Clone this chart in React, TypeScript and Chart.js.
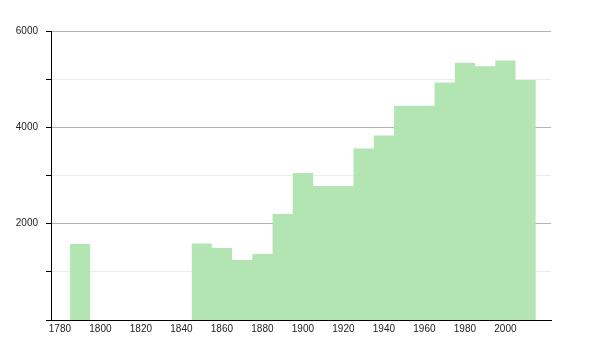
import React, { useEffect, useRef } from "react";
import { Chart, registerables } from "chart.js";

Chart.register(...registerables);

const censusYears = [1790, 1850, 1860, 1870, 1880, 1890, 1900, 1910, 1920, 1930, 1940, 1950, 1960, 1970, 1980, 1990, 2000, 2010];
const population = [1580, 1590, 1494, 1245, 1369, 2199, 3050, 2780, 2780, 3560, 3830, 4450, 4450, 4930, 5340, 5270, 5385, 4985];
const xTickYears = [1780, 1800, 1820, 1840, 1860, 1880, 1900, 1920, 1940, 1960, 1980, 2000];
const yTicks = [0, 1000, 2000, 3000, 4000, 5000, 6000];
const yLabelled = [2000, 4000, 6000];

const HALF_SPAN = 5;

function buildSteps() {
  const pts: { x: number; y: number | null }[] = [];
  for (let i = 0; i < censusYears.length; i++) {
    const yr = censusYears[i];
    const v = population[i];
    const prev = i > 0 ? censusYears[i - 1] : null;
    if (prev !== null && yr - prev > 2 * HALF_SPAN) {
      pts.push({ x: (prev + yr) / 2, y: null });
    }
    pts.push({ x: yr - HALF_SPAN, y: v });
    const next = i < censusYears.length - 1 ? censusYears[i + 1] : null;
    if (next === null || next - yr > 2 * HALF_SPAN) {
      pts.push({ x: yr + HALF_SPAN, y: v });
    }
  }
  return pts;
}

export default function App() {
  const ref = useRef<HTMLCanvasElement>(null);
  useEffect(() => {
    if (!ref.current) return;
    const font = { family: "'Liberation Sans', Arial, Helvetica, sans-serif", size: 10 };
    const chart = new Chart(ref.current, {
      type: "line",
      data: {
        datasets: [
          {
            data: buildSteps() as any,
            stepped: "before",
            fill: "origin",
            backgroundColor: "#b3e5b3",
            borderWidth: 0,
            borderColor: "rgba(0,0,0,0)",
            pointRadius: 0,
            spanGaps: false,
          },
        ],
      },
      options: {
        animation: false,
        responsive: false,
        maintainAspectRatio: false,
        layout: { padding: { left: 0, top: 31, right: 49, bottom: 0 } },
        plugins: { legend: { display: false }, tooltip: { enabled: false } },
        scales: {
          x: {
            type: "linear",
            min: 1775.6,
            max: 2022.5,
            afterBuildTicks: (scale: any) => {
              scale.ticks = xTickYears.map((v) => ({ value: v }));
            },
            afterFit: (scale: any) => {
              scale.height = 30;
            },
            grid: { display: false, drawTicks: false },
            border: { display: true, color: "#000", width: 1 },
            ticks: {
              font,
              color: "#222",
              padding: 3,
              maxRotation: 0,
              autoSkip: false,
              callback: (v: any) => String(v),
            },
          },
          y: {
            min: 0,
            max: 6000,
            afterBuildTicks: (scale: any) => {
              scale.ticks = yTicks.map((v) => ({ value: v }));
            },
            afterFit: (scale: any) => {
              scale.width = 51;
            },
            grid: {
              color: (ctx: any) =>
                ctx.tick && yLabelled.includes(ctx.tick.value) ? "#b4b4b4" : "#ececec",
              tickColor: "#000",
              tickLength: 5,
              drawTicks: true,
            },
            border: { display: true, color: "#000", width: 1 },
            ticks: {
              font,
              color: "#222",
              padding: 8,
              autoSkip: false,
              callback: (v: any) => (yLabelled.includes(Number(v)) ? String(v) : ""),
            },
          },
        },
      },
    });
    return () => chart.destroy();
  }, []);
  return (
    <div style={{ position: "absolute", left: 0, top: 0, width: 600, height: 350, background: "#fff" }}>
      <canvas ref={ref} width={600} height={350} style={{ width: 600, height: 350 }} />
    </div>
  );
}
